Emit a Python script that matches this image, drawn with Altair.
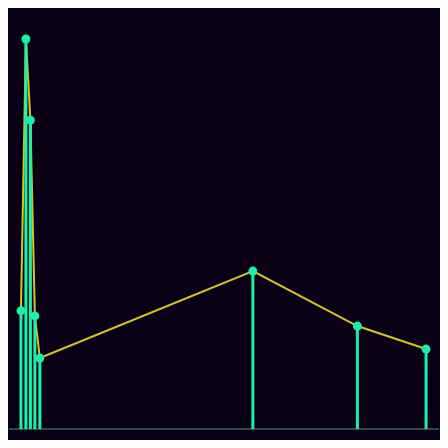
import altair as alt
import pandas as pd

xs = [20, 25, 29.5, 34, 39, 253, 358, 427]
ys = [30.3, 100, 79.2, 29.0, 18.2, 40.5, 26.4, 20.5]

df = pd.DataFrame({"x": xs, "y": ys})

xscale = alt.Scale(domain=[8, 440], nice=False, zero=False)
yscale = alt.Scale(domain=[-2.82, 107.95], nice=False, zero=False)

base = alt.Chart(df).encode(
    x=alt.X("x:Q", scale=xscale, axis=None),
)

line = base.mark_line(color="#d8c41c", strokeWidth=2).encode(
    y=alt.Y("y:Q", scale=yscale, axis=None)
)
stems = base.mark_rule(color="#19f0a8", strokeWidth=3).encode(
    y=alt.Y("y:Q", scale=yscale, axis=None), y2=alt.datum(0)
)
dots = base.mark_circle(color="#19f0a8", opacity=1, size=80).encode(
    y=alt.Y("y:Q", scale=yscale, axis=None)
)
baseline = alt.Chart(pd.DataFrame({"y": [0]})).mark_rule(color="#2b6666", strokeWidth=1.5).encode(
    y=alt.Y("y:Q", scale=yscale, axis=None)
)

chart = alt.layer(baseline, line, stems, dots).properties(
    width=432, height=432,
    autosize=alt.AutoSizeParams(type="fit", contains="padding"),
    padding=0,
    background="#0a0016",
).configure_view(stroke=None, fill="#0a0016")

chart.save("out.html", embed_options={"renderer": "svg", "actions": False})
